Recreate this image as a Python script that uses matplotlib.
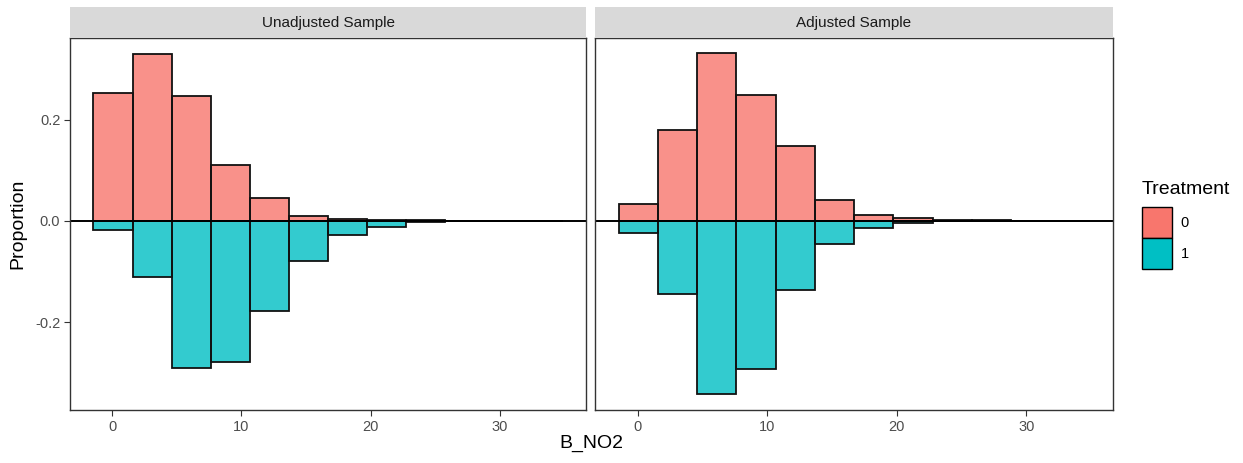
import matplotlib.pyplot as plt
from matplotlib.patches import Patch
import numpy as np

plt.rcParams['font.family'] = ['Liberation Sans', 'DejaVu Sans']

# Histogram bins of B_NO2 (12 bins, last ones empty)
bin_edges = [-1.47 + 3.03 * k for k in range(13)]

panels = ['Unadjusted Sample', 'Adjusted Sample']

# Proportions per bin, treatment 0 drawn upward, treatment 1 downward
unadj_t0 = [0.2525, 0.330, 0.248, 0.110, 0.0446, 0.0095, 0.003, 0.002, 0.001, 0.0005, 0, 0]
unadj_t1 = [0.017, 0.110, 0.291, 0.280, 0.179, 0.080, 0.028, 0.011, 0.003, 0.001, 0, 0]
adj_t0 = [0.033, 0.180, 0.332, 0.250, 0.148, 0.042, 0.0123, 0.005, 0.002, 0.001, 0, 0]
adj_t1 = [0.023, 0.145, 0.342, 0.292, 0.137, 0.045, 0.013, 0.004, 0.001, 0.0003, 0, 0]

col0 = '#F8766D'
col1 = '#00BFC4'

W, H = 1243, 463
fig = plt.figure(figsize=(W / 100, H / 100), dpi=100)

boxes = [(70, 586), (595, 1113)]
data = [(unadj_t0, unadj_t1), (adj_t0, adj_t1)]
edges = np.array(bin_edges)
widths = np.diff(edges)

for i, ((x0, x1), (t0, t1), title) in enumerate(zip(boxes, data, panels)):
    ax = fig.add_axes([x0 / W, 1 - 410 / H, (x1 - x0) / W, 372 / H])
    ax.bar(edges[:-1], t0, width=widths, align='edge', color=col0, alpha=0.8,
           edgecolor='none')
    ax.bar(edges[:-1], -np.array(t1), width=widths, align='edge', color=col1, alpha=0.8,
           edgecolor='none')
    # outlines drawn fully opaque on top
    ax.bar(edges[:-1], t0, width=widths, align='edge', fill=False,
           edgecolor='#111111', linewidth=1.3)
    ax.bar(edges[:-1], -np.array(t1), width=widths, align='edge', fill=False,
           edgecolor='#111111', linewidth=1.3)
    ax.axhline(0, color='black', linewidth=1.4)
    ax.set_xlim(-3.29, 36.7)
    ax.set_ylim(-0.374, 0.362)
    ax.set_xticks([0, 10, 20, 30])
    ax.set_yticks([-0.2, 0.0, 0.2])
    ax.set_yticklabels(['-0.2', '0.0', '0.2'])
    for s in ax.spines.values():
        s.set_color('#333333')
        s.set_linewidth(1.0)
    ax.tick_params(colors='#333333', labelcolor='#4D4D4D', labelsize=10.5, length=4,
                   width=0.8, pad=3)
    if i == 0:
        ax.set_ylabel('Proportion', fontsize=14, labelpad=6)
    else:
        ax.tick_params(axis='y', left=False, labelleft=False)

    sx = fig.add_axes([x0 / W, 1 - 38 / H, (x1 - x0) / W, 31 / H])
    sx.set_facecolor('#D9D9D9')
    sx.set_xticks([])
    sx.set_yticks([])
    for s in sx.spines.values():
        s.set_visible(False)
    sx.text(0.5, 0.47, title, ha='center', va='center', fontsize=11, color='#1A1A1A',
            transform=sx.transAxes)

fig.text(591 / W, 1 - 443 / H, 'B_NO2', ha='center', va='center', fontsize=14)

# legend: title as separate text so the gap matches ggplot
fig.text(1142 / W, 1 - 190 / H, 'Treatment', ha='left', va='center', fontsize=14)
handles = [Patch(facecolor=col0, edgecolor='black', label='0'),
           Patch(facecolor=col1, edgecolor='black', label='1')]
leg = fig.legend(handles=handles, loc='upper left',
                 bbox_to_anchor=(1142 / W, 1 - 207 / H), frameon=False,
                 fontsize=10.5, labelspacing=0.0,
                 handlelength=2.06, handleheight=2.89, handletextpad=0.6,
                 borderpad=0.0, borderaxespad=0.0)

fig.savefig('out.png', dpi=100)
